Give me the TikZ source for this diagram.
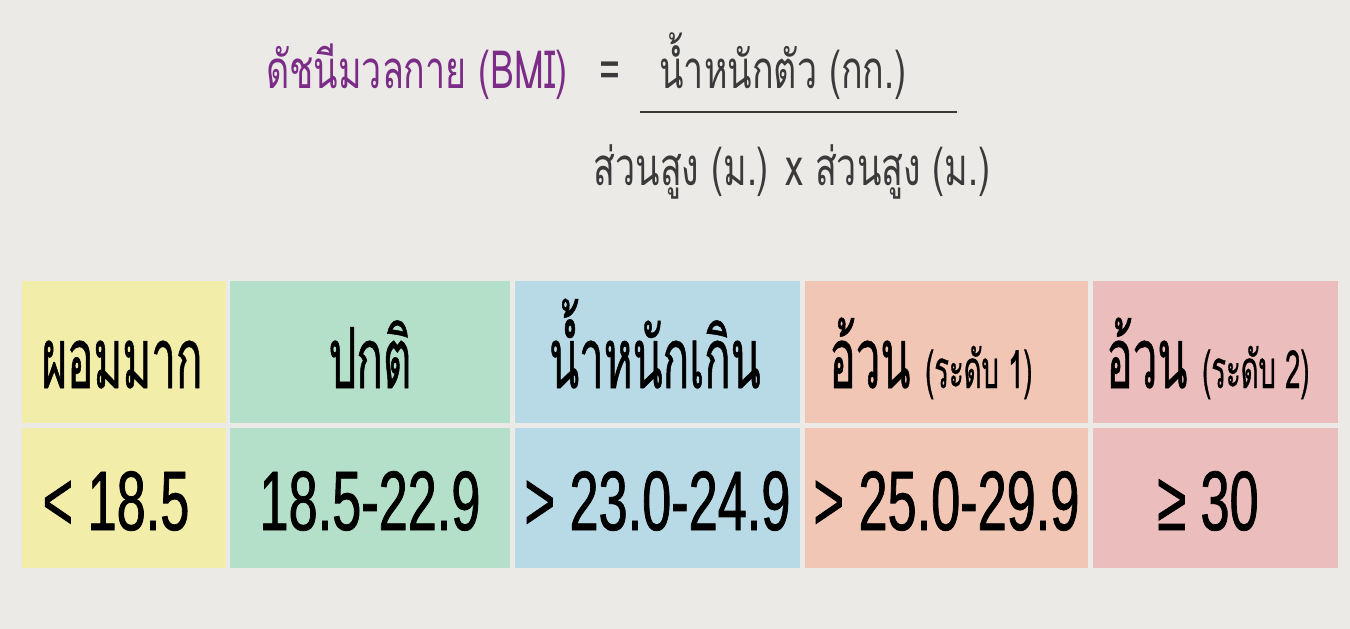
\documentclass[tikz,border=0pt]{standalone}
\usepackage{fontspec}
\usetikzlibrary{positioning}
\newfontfamily\headfont[Script=Thai,FakeStretch=0.52,FakeBold=0.6]{Loma}
\newfontfamily\formfont[Script=Thai,FakeStretch=0.68]{Loma}
\newfontfamily\numfont[FakeStretch=0.62,FakeBold=0.9]{Liberation Sans}
\definecolor{paper}{HTML}{ECEAE7}
\definecolor{titlepurple}{HTML}{7A2C86}
\definecolor{formgray}{HTML}{3A3A3A}
\definecolor{cunder}{HTML}{F2EDA8}
\definecolor{cnormal}{HTML}{B4E0C9}
\definecolor{cover}{HTML}{B7DAE6}
\definecolor{cobese}{HTML}{F1C6B4}
\definecolor{cobesetwo}{HTML}{EBBDBD}
\begin{document}
\begin{tikzpicture}[x=0.02cm,y=-0.02cm,
  cell/.style={inner sep=0pt,minimum height=2.86cm},
  headtext/.style={anchor=base,inner sep=0pt,font=\headfont\fontsize{48}{52}\selectfont},
  valtext/.style={anchor=base,inner sep=0pt,font=\numfont\fontsize{48}{52}\selectfont},
  formtext/.style={anchor=base,inner sep=0pt,text=formgray,font=\formfont\fontsize{30}{34}\selectfont}]
  \fill[paper] (0,0) rectangle (1350,629);
  \useasboundingbox (0,0) rectangle (1350,629);
  % formula
  \node[formtext,text=titlepurple] (bmi) at (417,88) {ดัชนีมวลกาย (BMI)};
  \node[formtext] (eq) at (610,88) {=};
  \node[formtext] (num) at (783,88) {น้ำหนักตัว (กก.)};
  \node[formtext] (den) at (792,185) {ส่วนสูง (ม.) x ส่วนสูง (ม.)};
  \coordinate (barL) at (640,112);
  \coordinate (barR) at (957,112);
  \draw[formgray,line width=1.6pt] (barL) -- (barR);
  % header row
  \node[cell,fill=cunder,minimum width=4.08cm] (h1) at (124,352) {};
  \node[cell,fill=cnormal,minimum width=5.6cm] (h2) at (370,352) {};
  \node[cell,fill=cover,minimum width=5.7cm] (h3) at (657.5,352) {};
  \node[cell,fill=cobese,minimum width=5.66cm] (h4) at (946.5,352) {};
  \node[cell,fill=cobesetwo,minimum width=4.9cm] (h5) at (1215.5,352) {};
  % value row
  \node[cell,fill=cunder,minimum width=4.08cm,minimum height=2.8cm] (v1) at (124,498) {};
  \node[cell,fill=cnormal,minimum width=5.6cm,minimum height=2.8cm] (v2) at (370,498) {};
  \node[cell,fill=cover,minimum width=5.7cm,minimum height=2.8cm] (v3) at (657.5,498) {};
  \node[cell,fill=cobese,minimum width=5.66cm,minimum height=2.8cm] (v4) at (946.5,498) {};
  \node[cell,fill=cobesetwo,minimum width=4.9cm,minimum height=2.8cm] (v5) at (1215.5,498) {};
  % labels
  \node[headtext] (t1) at (122,388) {ผอมมาก};
  \node[headtext] (t2) at (370,388) {ปกติ};
  \node[headtext] (t3) at (655,388) {น้ำหนักเกิน};
  \node[headtext] (t4) at (931,388) {อ้วน {\fontsize{30}{34}\selectfont(ระดับ 1)}};
  \node[headtext] (t5) at (1208,388) {อ้วน {\fontsize{30}{34}\selectfont(ระดับ 2)}};
  \node[valtext] (n1) at (116,530) {< 18.5};
  \node[valtext] (n2) at (370,530) {18.5-22.9};
  \node[valtext] (n3) at (657.5,530) {> 23.0-24.9};
  \node[valtext] (n4) at (946.5,530) {> 25.0-29.9};
  \node[valtext] (n5) at (1208,530) {≥ 30};
\end{tikzpicture}
\end{document}
